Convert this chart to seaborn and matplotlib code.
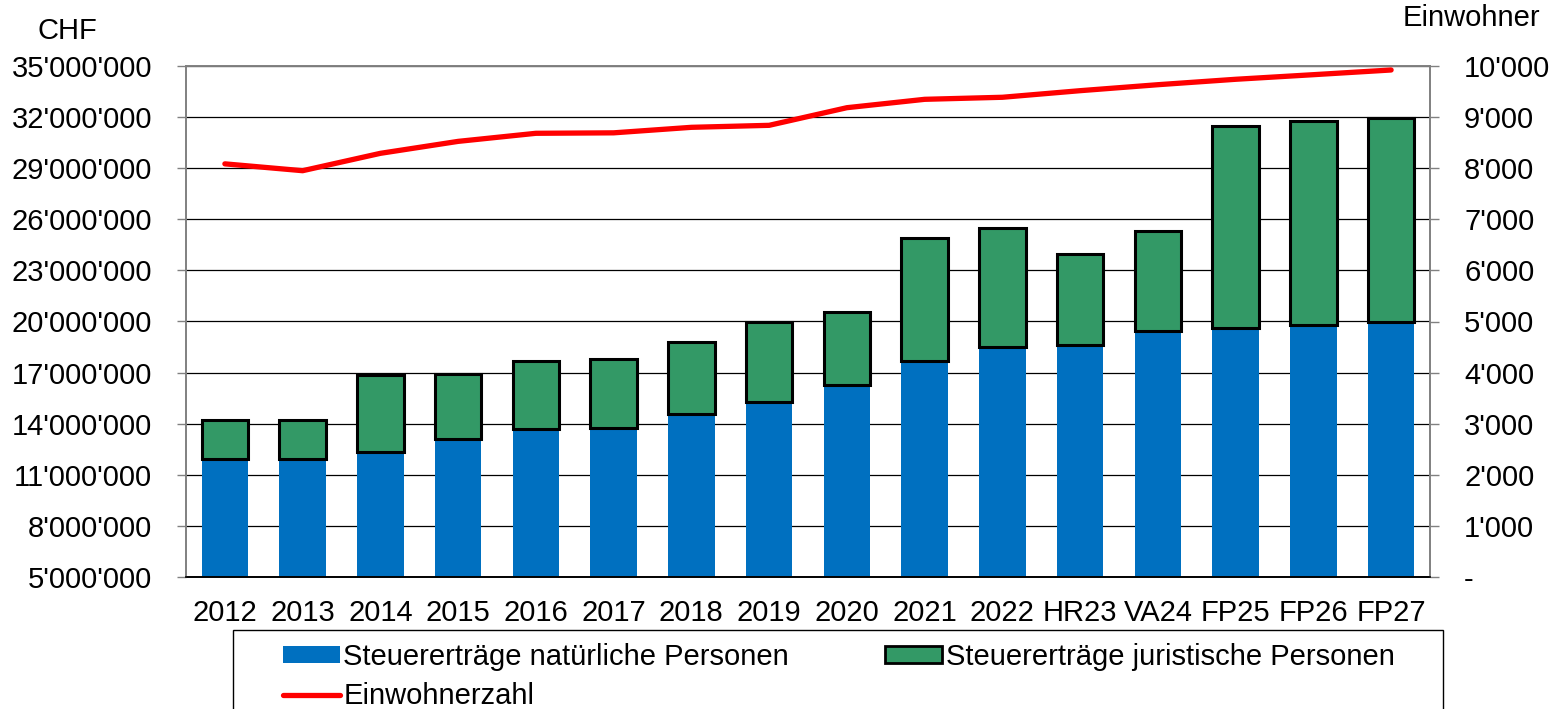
import numpy as np
import pandas as pd
import matplotlib.pyplot as plt
import seaborn as sns
from matplotlib.ticker import FuncFormatter
from matplotlib.patches import Patch, Rectangle
from matplotlib.lines import Line2D

# Daten (CHF bzw. Einwohner)
jahre = ['2012', '2013', '2014', '2015', '2016', '2017', '2018', '2019',
         '2020', '2021', '2022', 'HR23', 'VA24', 'FP25', 'FP26', 'FP27']
nat_personen = [11920000, 11920000, 12350000, 13100000, 13700000, 13760000, 14550000, 15290000,
                16270000, 17680000, 18520000, 18620000, 19440000, 19600000, 19790000, 19950000]
jur_personen = [2290000, 2290000, 4510000, 3800000, 3980000, 4020000, 4230000, 4700000,
                4270000, 7220000, 6990000, 5340000, 5890000, 11900000, 11960000, 12010000]
einwohner = [8085, 7951, 8291, 8525, 8683, 8692, 8800, 8839,
             9184, 9348, 9388, 9517, 9634, 9740, 9830, 9922]

blau = '#0070C0'
gruen = '#339966'
rot = '#FF0000'

df = pd.DataFrame({'Jahr': jahre, 'nat': nat_personen, 'jur': jur_personen, 'einw': einwohner})
df['pos'] = np.arange(len(df))

sns.set_style('white')
plt.rcParams['font.family'] = ['Liberation Sans', 'DejaVu Sans']
plt.rcParams['text.color'] = 'black'
plt.rcParams['xtick.labelcolor'] = 'black'
plt.rcParams['ytick.labelcolor'] = 'black'
fs = 21

fig = plt.figure(figsize=(15.63, 7.09), dpi=100)
ax = fig.add_axes([186 / 1563, 1 - 577 / 709, (1430 - 186) / 1563, (577 - 66) / 709])

# gestapelte Balken
sns.barplot(data=df, x='Jahr', y='nat', color=blau, saturation=1, width=0.6,
            linewidth=0, errorbar=None, ax=ax, zorder=2)
sns.barplot(data=df, x='Jahr', y='jur', bottom=df['nat'], color=gruen, saturation=1, width=0.6,
            edgecolor='black', linewidth=2.2, errorbar=None, ax=ax, zorder=3)

ax.set_ylim(5000000, 35000000)
ax.set_yticks(np.arange(5000000, 35000001, 3000000))
ax.yaxis.set_major_formatter(FuncFormatter(lambda v, p: f"{int(v):,}".replace(',', "'")))
ax.yaxis.grid(True, color='black', lw=0.9)
ax.set_axisbelow(True)
ax.set_xlim(-0.5, len(jahre) - 0.5)
ax.set_xticks(df['pos'])
ax.set_xticklabels(jahre)
ax.set_xticks(np.arange(-0.5, len(jahre)), minor=True)
ax.tick_params(axis='x', which='major', length=0, pad=16, labelsize=fs, labelcolor='black')
ax.tick_params(axis='x', which='minor', length=6.5, width=1, color='black')
ax.tick_params(axis='y', length=6.5, width=1, color='#808080', pad=18, labelsize=fs, labelcolor='black')
ax.set_xlabel('')
ax.set_ylabel('')

# Einwohnerzahl
ax2 = ax.twinx()
sns.lineplot(data=df, x='pos', y='einw', color=rot, lw=3.8, ax=ax2, zorder=5)
ax2.set_ylim(0, 10000)
ax2.set_yticks(np.arange(0, 10001, 1000))
ax2.yaxis.set_major_formatter(FuncFormatter(lambda v, p: '-' if v == 0 else f"{int(v):,}".replace(',', "'")))
ax2.tick_params(axis='y', length=6.5, width=1, color='#808080', pad=18, labelsize=fs, labelcolor='black')
ax2.set_xlabel('')
ax2.set_ylabel('')
ax2.set_xlim(-0.5, len(jahre) - 0.5)

for a in (ax, ax2):
    for s in ('left', 'top', 'right'):
        a.spines[s].set_color('#808080')
        a.spines[s].set_linewidth(1.2)
    a.spines['bottom'].set_color('black')
    a.spines['bottom'].set_linewidth(1.2)

fig.text(67 / 1563, 1 - 31 / 709, 'CHF', ha='center', va='center', fontsize=fs, color='black')
fig.text(1471 / 1563, 1 - 18 / 709, 'Einwohner', ha='center', va='center', fontsize=fs, color='black')

# Legende
handles = [Patch(facecolor=blau, edgecolor='none'),
           Line2D([0], [0], color=rot, lw=3.8),
           Patch(facecolor=gruen, edgecolor='black', linewidth=2)]
labels = ['Steuererträge natürliche Personen', 'Einwohnerzahl', 'Steuererträge juristische Personen']
leg = fig.legend(handles, labels, loc='upper left', bbox_to_anchor=(283 / 1563, 1 - 643 / 709),
                 ncol=2, fontsize=fs, frameon=False, borderpad=0, borderaxespad=0,
                 handlelength=1.95, handleheight=0.55, handletextpad=0.12, columnspacing=3.3,
                 labelspacing=0.38)
for t in leg.get_texts():
    t.set_color('black')
fig.patches.append(Rectangle((233 / 1563, -0.1), (1443 - 233) / 1563, 0.1 + 1 - 630 / 709,
                             transform=fig.transFigure, fill=False, edgecolor='black', lw=1))

fig.savefig('out.png', dpi=100)
